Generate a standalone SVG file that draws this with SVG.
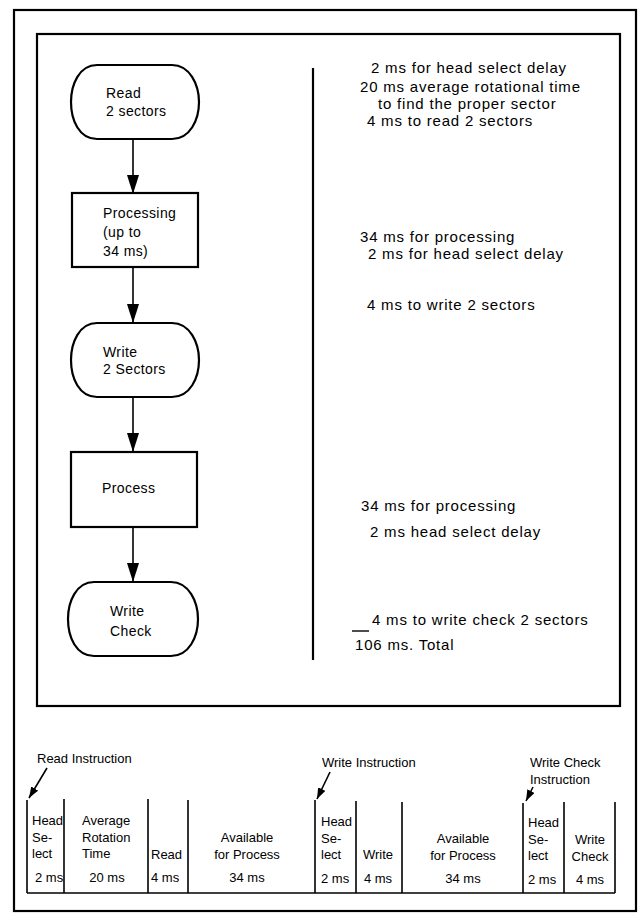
<svg xmlns="http://www.w3.org/2000/svg" width="642" height="918" viewBox="0 0 642 918">
<style>
.ln{fill:none;stroke:#000;stroke-width:2.2}
.th{fill:none;stroke:#000;stroke-width:1.6}
.sh{fill:#fff;stroke:#000;stroke-width:2.2}
text{font-family:"Liberation Sans",Arial,sans-serif;fill:#000}
.nd{font-size:14px;letter-spacing:0.4px}
.rt{font-size:15px;letter-spacing:0.8px}
.tl{font-size:13px}
.tc{font-size:13px;text-anchor:middle}
</style>
<defs>
<marker id="ah" markerUnits="userSpaceOnUse" markerWidth="20" markerHeight="12" refX="19" refY="6" orient="auto" viewBox="0 0 20 12">
<path d="M0,0 L19,6 L0,12 Z" fill="#000"/>
</marker>
<marker id="sa" markerUnits="userSpaceOnUse" markerWidth="12" markerHeight="8" refX="11" refY="4" orient="auto" viewBox="0 0 12 8">
<path d="M0,0 L11,4 L0,8 Z" fill="#000"/>
</marker>
</defs>
<g id="frame">
<rect class="ln" x="14" y="10" width="622" height="901"/>
<rect class="ln" x="37" y="34" width="583" height="672"/>
<line class="ln" x1="313" y1="68" x2="313" y2="660"/>
</g>
<g id="connectors">
<line class="th" x1="133" y1="139" x2="133" y2="194" marker-end="url(#ah)"/>
<line class="th" x1="133" y1="267" x2="133" y2="323" marker-end="url(#ah)"/>
<line class="th" x1="133" y1="397" x2="133" y2="452" marker-end="url(#ah)"/>
<line class="th" x1="133" y1="527" x2="133" y2="582" marker-end="url(#ah)"/>
</g>
<g id="n-read">
<path class="sh" d="M97,65 H172 C190,65 199,85 199,102 C199,120 190,139 172,139 H97 C79,139 71,120 71,102 C71,85 79,65 97,65 Z"/>
<text class="nd" x="106" y="98">Read</text>
<text class="nd" x="106" y="116">2 sectors</text>
</g>
<g id="n-processing">
<rect class="sh" x="72" y="193" width="126" height="74"/>
<text class="nd" x="103" y="218">Processing</text>
<text class="nd" x="103" y="237">(up to</text>
<text class="nd" x="103" y="256">34 ms)</text>
</g>
<g id="n-write">
<path class="sh" d="M97,323 H172 C190,323 199,343 199,360 C199,378 190,397 172,397 H97 C79,397 71,378 71,360 C71,343 79,323 97,323 Z"/>
<text class="nd" x="103" y="357">Write</text>
<text class="nd" x="103" y="374">2 Sectors</text>
</g>
<g id="n-process">
<rect class="sh" x="71" y="452" width="126" height="75"/>
<text class="nd" x="102" y="493">Process</text>
</g>
<g id="n-writecheck">
<path class="sh" d="M94,582 H171 C189,582 198,602 198,619 C198,637 189,656 171,656 H94 C76,656 68,637 68,619 C68,602 76,582 94,582 Z"/>
<text class="nd" x="110" y="616">Write</text>
<text class="nd" x="110" y="636">Check</text>
</g>
<g id="notes">
<text class="rt" x="371" y="73">2 ms for head select delay</text>
<text class="rt" x="360" y="92">20 ms average rotational time</text>
<text class="rt" x="378" y="109">to find the proper sector</text>
<text class="rt" x="367" y="126">4 ms to read 2 sectors</text>
<text class="rt" x="360" y="242">34 ms for processing</text>
<text class="rt" x="368" y="259">2 ms for head select delay</text>
<text class="rt" x="367" y="310">4 ms to write 2 sectors</text>
<text class="rt" x="361" y="511">34 ms for processing</text>
<text class="rt" x="370" y="537">2 ms head select delay</text>
<text class="rt" x="372" y="625">4 ms to write check 2 sectors</text>
<line x1="352" y1="631" x2="369" y2="631" stroke="#000" stroke-width="1.4"/>
<text class="rt" x="355" y="650">106 ms. Total</text>
</g>
<g id="timeline">
<g class="th">
<line x1="27" y1="800" x2="27" y2="893"/>
<line x1="64" y1="799" x2="64" y2="893"/>
<line x1="148" y1="799" x2="148" y2="893"/>
<line x1="188" y1="800" x2="188" y2="893"/>
<line x1="315" y1="800" x2="315" y2="893"/>
<line x1="356" y1="801" x2="356" y2="893"/>
<line x1="402" y1="802" x2="402" y2="893"/>
<line x1="523" y1="803" x2="523" y2="893"/>
<line x1="564" y1="802" x2="564" y2="893"/>
<line x1="615" y1="802" x2="615" y2="893"/>
<line x1="27" y1="893" x2="615" y2="893"/>
</g>
<text class="tl" x="37" y="763">Read Instruction</text>
<text class="tl" x="322" y="767">Write Instruction</text>
<text class="tl" x="530" y="767">Write Check</text>
<text class="tl" x="530" y="784">Instruction</text>
<line class="th" x1="47" y1="768" x2="29" y2="798" marker-end="url(#sa)"/>
<line class="th" x1="330" y1="772" x2="317" y2="799" marker-end="url(#sa)"/>
<line class="th" x1="533" y1="787" x2="526" y2="801" marker-end="url(#sa)"/>
<text class="tl" x="32" y="825">Head</text>
<text class="tl" x="32" y="842">Se-</text>
<text class="tl" x="32" y="858">lect</text>
<text class="tl" x="35" y="882">2 ms</text>
<text class="tl" x="82" y="825">Average</text>
<text class="tl" x="82" y="842">Rotation</text>
<text class="tl" x="82" y="858">Time</text>
<text class="tc" x="107" y="882">20 ms</text>
<text class="tl" x="151" y="859">Read</text>
<text class="tl" x="151" y="882">4 ms</text>
<text class="tc" x="247" y="842">Available</text>
<text class="tc" x="247" y="859">for Process</text>
<text class="tc" x="247" y="882">34 ms</text>
<text class="tl" x="321" y="826">Head</text>
<text class="tl" x="321" y="843">Se-</text>
<text class="tl" x="321" y="859">lect</text>
<text class="tl" x="321" y="883">2 ms</text>
<text class="tc" x="378" y="859">Write</text>
<text class="tc" x="378" y="883">4 ms</text>
<text class="tc" x="463" y="843">Available</text>
<text class="tc" x="463" y="860">for Process</text>
<text class="tc" x="463" y="883">34 ms</text>
<text class="tl" x="528" y="827">Head</text>
<text class="tl" x="528" y="844">Se-</text>
<text class="tl" x="528" y="860">lect</text>
<text class="tl" x="528" y="884">2 ms</text>
<text class="tc" x="590" y="844">Write</text>
<text class="tc" x="590" y="861">Check</text>
<text class="tc" x="590" y="884">4 ms</text>
</g>
</svg>
